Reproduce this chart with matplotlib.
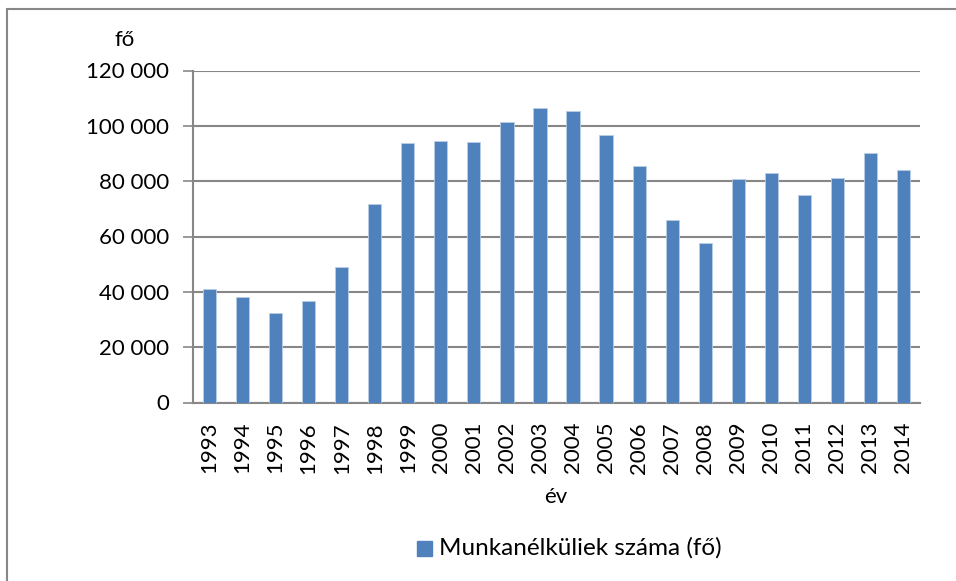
import matplotlib.pyplot as plt
import matplotlib.patches as mpatches
import numpy as np

plt.rcParams['font.family'] = ['Lato', 'DejaVu Sans']

years = [str(y) for y in range(1993, 2015)]
unemployed = [40900, 38000, 32200, 36700, 49000, 71600, 93700, 94600, 94300, 101300, 106400,
              105500, 96600, 85500, 65900, 57500, 80800, 82900, 75000, 81200, 90000, 83900]
yticks = [0, 20000, 40000, 60000, 80000, 100000, 120000]

W, H = 956, 581
fig = plt.figure(figsize=(W / 100, H / 100), dpi=100)
ax = fig.add_axes([193 / W, 1 - 402.5 / H, (920 - 193) / W, (402.5 - 70.5) / H])

bar_color = '#4f81bd'
grid_color = '#878787'

x = np.arange(len(years))
ax.bar(x, unemployed, width=0.4, color=bar_color, edgecolor='#b9cde5', linewidth=0.6, zorder=3,
       label='Munkanélküliek száma (fő)')

ax.set_xlim(-0.5, len(years) - 0.5)
ax.set_ylim(0, 120000)
ax.set_yticks(yticks)
ax.set_yticklabels([f'{v:,}'.replace(',', ' ') for v in yticks], fontsize=16)
ax.set_xticks(x)
ax.set_xticklabels(years, rotation=90, fontsize=16)
ax.yaxis.grid(True, color=grid_color, linewidth=1.5, zorder=0)
ax.tick_params(axis='x', length=0, pad=14)
ax.tick_params(axis='y', length=7, width=1.2, color=grid_color, pad=10)

for s in ['top', 'right']:
    ax.spines[s].set_visible(False)
for s in ['left', 'bottom']:
    ax.spines[s].set_color(grid_color)
    ax.spines[s].set_linewidth(1.5)

fig.text(125 / W, 1 - 40 / H, 'fő', fontsize=16, ha='center', va='center')
fig.text(556 / W, 1 - 497 / H, 'év', fontsize=16, ha='center', va='center')

# legend
fig.patches.append(mpatches.Rectangle((417 / W, 1 - 556 / H), 15 / W, 15 / H,
                                      transform=fig.transFigure, color=bar_color))
fig.text(439 / W, 1 - 548 / H, 'Munkanélküliek száma (fő)', fontsize=17.5, ha='left', va='center')

# chart frame
fig.patches.append(mpatches.Rectangle((7 / W, -0.1), 1.2, 1 - 9 / H + 0.1,
                                      transform=fig.transFigure, fill=False,
                                      edgecolor=grid_color, linewidth=1.5))

fig.savefig('out.png', dpi=100)
